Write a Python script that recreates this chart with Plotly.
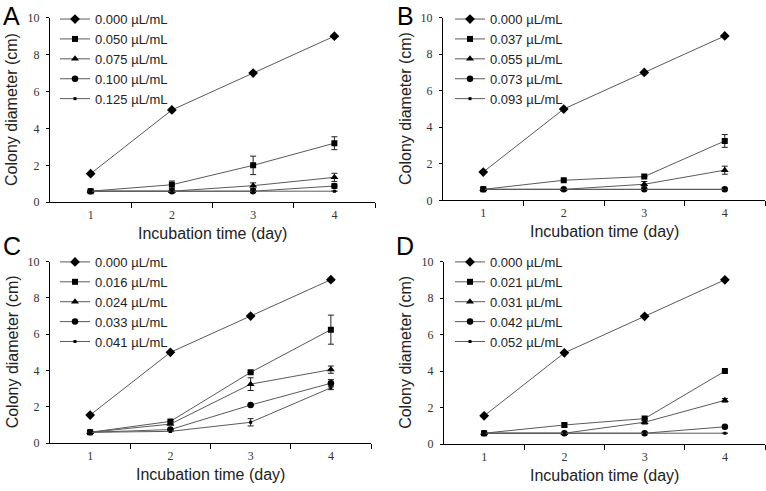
import plotly.graph_objects as go

W, H = 766, 491

days = [1, 2, 3, 4]
day_labels = ["1", "2", "3", "4"]
y_ticks = [0, 2, 4, 6, 8, 10]

A_labels = ["0.000 µL/mL", "0.050 µL/mL", "0.075 µL/mL", "0.100 µL/mL", "0.125 µL/mL"]
A_values = [[1.55, 5.0, 7.0, 9.0],
            [0.6, 0.95, 2.0, 3.2],
            [0.6, 0.6, 0.9, 1.35],
            [0.6, 0.6, 0.6, 0.88],
            [0.6, 0.6, 0.6, 0.6]]
A_errors = [[0, 0, 0, 0],
            [0, 0.2, 0.5, 0.35],
            [0, 0, 0.15, 0.22],
            [0, 0, 0, 0.12],
            [0, 0, 0, 0]]

B_labels = ["0.000 µL/mL", "0.037 µL/mL", "0.055 µL/mL", "0.073 µL/mL", "0.093 µL/mL"]
B_values = [[1.55, 5.0, 7.0, 9.0],
            [0.6, 1.1, 1.3, 3.25],
            [0.6, 0.6, 0.88, 1.65],
            [0.6, 0.6, 0.6, 0.6],
            [0.6, 0.6, 0.6, 0.6]]
B_errors = [[0, 0, 0, 0],
            [0, 0, 0, 0.35],
            [0, 0, 0.15, 0.22],
            [0, 0, 0, 0],
            [0, 0, 0, 0]]

C_labels = ["0.000 µL/mL", "0.016 µL/mL", "0.024 µL/mL", "0.033 µL/mL", "0.041 µL/mL"]
C_values = [[1.55, 5.0, 7.0, 9.0],
            [0.6, 1.2, 3.9, 6.25],
            [0.6, 1.05, 3.25, 4.05],
            [0.6, 0.75, 2.1, 3.3],
            [0.6, 0.65, 1.15, 3.05]]
C_errors = [[0, 0, 0, 0],
            [0, 0, 0, 0.8],
            [0, 0, 0.35, 0.2],
            [0, 0, 0, 0.2],
            [0, 0, 0.2, 0.1]]

D_labels = ["0.000 µL/mL", "0.021 µL/mL", "0.031 µL/mL", "0.042 µL/mL", "0.052 µL/mL"]
D_values = [[1.55, 5.0, 7.0, 9.0],
            [0.6, 1.05, 1.4, 4.0],
            [0.6, 0.6, 1.2, 2.4],
            [0.6, 0.6, 0.6, 0.95],
            [0.6, 0.6, 0.6, 0.6]]
D_errors = [[0, 0, 0, 0],
            [0, 0.1, 0, 0],
            [0, 0, 0.1, 0.1],
            [0, 0, 0, 0],
            [0, 0, 0, 0]]

symbols = ["diamond", "square", "triangle-up", "circle", "square"]
sizes = [7.5, 6, 7, 6.5, 3]

def px(x):
    return x / W

def py(y):
    return 1 - y / H

panels = [
    dict(letter="A", labels=A_labels, values=A_values, errors=A_errors,
         x0=50, x1=375, y0=11, y1=201, lx=55, ly=-3, letter_xy=(12, 9)),
    dict(letter="B", labels=B_labels, values=B_values, errors=B_errors,
         x0=443, x1=765, y0=11, y1=199, lx=450, ly=-3, letter_xy=(405, 9)),
    dict(letter="C", labels=C_labels, values=C_values, errors=C_errors,
         x0=50, x1=371, y0=262, y1=449, lx=55, ly=247, letter_xy=(12, 246)),
    dict(letter="D", labels=D_labels, values=D_values, errors=D_errors,
         x0=444, x1=765, y0=262, y1=450, lx=450, ly=247, letter_xy=(405, 246)),
]

fig = go.Figure()
annotations = []
SANS = "Liberation Sans"
SERIF = "Liberation Serif"

for i, p in enumerate(panels):
    n = i + 1
    xa = "x" if n == 1 else f"x{n}"
    ya = "y" if n == 1 else f"y{n}"
    lg = "legend" if n == 1 else f"legend{n}"
    for k in range(5):
        fig.add_trace(go.Scatter(
            x=days, y=p["values"][k], name=p["labels"][k],
            xaxis=xa, yaxis=ya, legend=lg,
            mode="lines+markers",
            line=dict(color="#5a5a5a", width=1),
            marker=dict(symbol=symbols[k], size=sizes[k], color="black"),
            error_y=dict(type="data", array=p["errors"][k], visible=True,
                         color="#222", thickness=1, width=3),
        ))
    xk = "xaxis" if n == 1 else f"xaxis{n}"
    yk = "yaxis" if n == 1 else f"yaxis{n}"
    fig.layout[xk] = dict(
        domain=[px(p["x0"]), px(p["x1"])], anchor=ya, range=[0.5, 4.5],
        tickmode="array", tickvals=days, ticktext=day_labels,
        ticks="outside", ticklen=1, tickcolor="rgba(0,0,0,0)",
        minor=dict(tickmode="array", tickvals=[1.5, 2.5, 3.5, 4.5],
                   ticks="outside", ticklen=5, tickcolor="black", tickwidth=1),
        showline=True, linecolor="black", linewidth=1,
        showgrid=False, zeroline=False,
        tickfont=dict(family=SERIF, size=12, color="#333"),
    )
    fig.layout[yk] = dict(
        domain=[py(p["y1"]), py(p["y0"])], anchor=xa, range=[0, 10],
        tickmode="array", tickvals=y_ticks,
        ticks="outside", ticklen=3, tickcolor="black",
        ticklabelstandoff=4,
        showline=True, linecolor="black", linewidth=1,
        showgrid=False, zeroline=False,
        tickfont=dict(family=SERIF, size=12, color="#333"),
    )
    fig.layout[lg] = dict(
        x=px(p["lx"]), y=py(p["ly"]), xanchor="left", yanchor="top",
        bgcolor="rgba(0,0,0,0)", borderwidth=0,
        font=dict(family=SANS, size=13, color="#222"),
        tracegroupgap=0,
    )
    annotations.append(dict(
        text="Incubation time (day)", x=px((p["x0"] + p["x1"]) / 2), y=py(p["y1"] + 32),
        xref="paper", yref="paper", showarrow=False, xanchor="center", yanchor="middle",
        font=dict(family=SANS, size=16, color="#222")))
    annotations.append(dict(
        text="Colony diameter (cm)", x=px(p["x0"] - 38), y=py((p["y0"] + p["y1"]) / 2),
        xref="paper", yref="paper", showarrow=False, textangle=-90,
        xanchor="center", yanchor="middle",
        font=dict(family=SANS, size=16, color="#222")))
    annotations.append(dict(
        text=p["letter"], x=px(p["letter_xy"][0]), y=py(p["letter_xy"][1]),
        xref="paper", yref="paper", showarrow=False, xanchor="center", yanchor="middle",
        font=dict(family=SANS, size=25, color="black")))

fig.update_layout(
    width=W, height=H, margin=dict(l=0, r=0, t=0, b=0),
    paper_bgcolor="white", plot_bgcolor="white",
    showlegend=True, annotations=annotations,
)

# the page's default 8px body margin would push the 766x491 figure out of the window
fig.write_html("out.html", config={"displayModeBar": False},
               post_script="document.body.style.margin='0';")
